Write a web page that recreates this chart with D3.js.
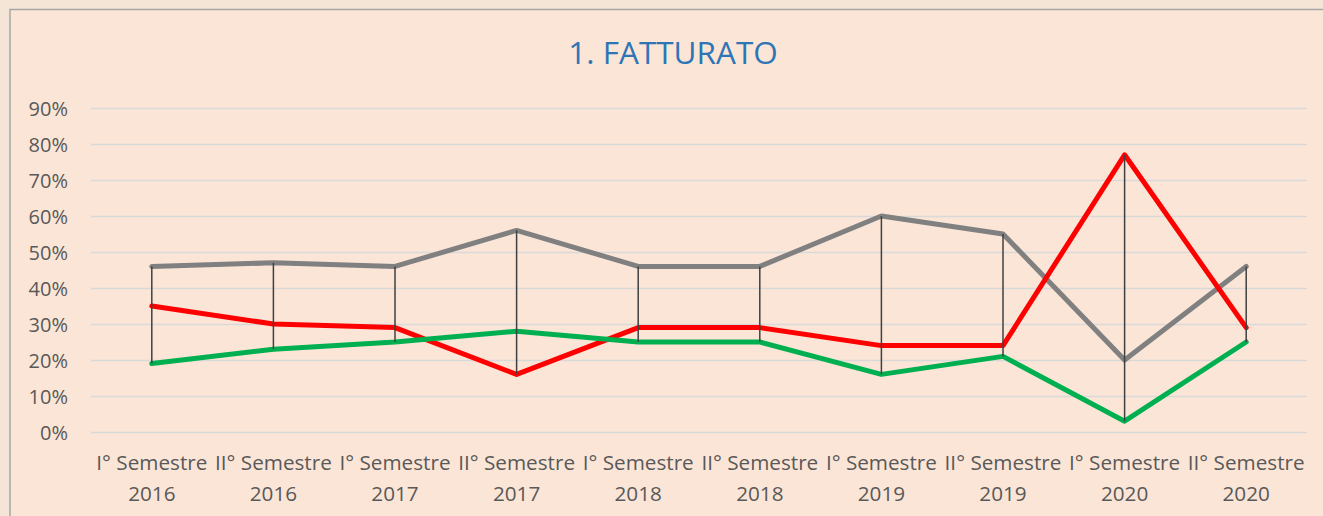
<!DOCTYPE html>
<html>
<head>
<meta charset="utf-8">
<script src="https://cdn.jsdelivr.net/npm/d3@7"></script>
<style>
  body { margin: 0; background: #f5e5d6; }
  svg { display: block; }
  .axisText { font-family: "Open Sans", sans-serif; fill: #595959; }
</style>
</head>
<body>
<div id="chart"></div>
<script>
var svgWidth = 1323;
var svgHeight = 516;

// categories (two-line labels) and series values, in %
var semesters = ["I° Semestre", "II° Semestre", "I° Semestre", "II° Semestre", "I° Semestre",
                 "II° Semestre", "I° Semestre", "II° Semestre", "I° Semestre", "II° Semestre"];
var years = ["2016", "2016", "2017", "2017", "2018", "2018", "2019", "2019", "2020", "2020"];
var greyValues = [46, 47, 46, 56, 46, 46, 60, 55, 20, 46];
var redValues = [35, 30, 29, 16, 29, 29, 24, 24, 77, 29];
var greenValues = [19, 23, 25, 28, 25, 25, 16, 21, 3, 25];
var yTicks = [0, 10, 20, 30, 40, 50, 60, 70, 80, 90];

var categories = semesters.map((s, i) => i);

var plot = { left: 91, right: 1307, top: 108, bottom: 432 };

var svg = d3.select("#chart")
  .append("svg")
  .attr("width", svgWidth)
  .attr("height", svgHeight);

// chart area (runs off the right and bottom of the picture)
svg.append("rect")
  .attr("x", 10)
  .attr("y", 9.5)
  .attr("width", svgWidth + 20)
  .attr("height", svgHeight + 20)
  .attr("fill", "#fbe5d7")
  .attr("stroke", "#a6a6a6")
  .attr("stroke-width", 1.5);

svg.append("text")
  .attr("x", 673)
  .attr("y", 64)
  .attr("text-anchor", "middle")
  .style("font-family", "'Open Sans', sans-serif")
  .style("font-size", "31.5px")
  .style("fill", "#2e75b6")
  .text("1. FATTURATO");

var xScale = d3.scaleBand()
  .domain(categories)
  .range([plot.left, plot.right])
  .padding(0);

var yScale = d3.scaleLinear()
  .domain([0, 90])
  .range([plot.bottom, plot.top]);

var xc = i => xScale(i) + xScale.bandwidth() / 2;

// gridlines + y labels
var leftAxis = d3.axisLeft(yScale)
  .tickValues(yTicks)
  .tickSize(-(plot.right - plot.left))
  .tickPadding(23)
  .tickFormat(d => d + "%");

var yAxisG = svg.append("g")
  .attr("transform", `translate(${plot.left}, 0)`)
  .call(leftAxis);
yAxisG.select(".domain").remove();
yAxisG.selectAll("line")
  .attr("stroke", "#d9d9d9")
  .attr("stroke-width", 1.5);
yAxisG.selectAll("text")
  .attr("class", "axisText")
  .style("font-size", "20px")
  .attr("dy", "0.35em");

// x labels
var bottomAxis = d3.axisBottom(xScale)
  .tickSize(0)
  .tickFormat("");

var xAxisG = svg.append("g")
  .attr("transform", `translate(0, ${plot.bottom})`)
  .call(bottomAxis);
xAxisG.select(".domain").remove();
xAxisG.selectAll(".tick").each(function(d) {
  var t = d3.select(this).select("text")
    .attr("class", "axisText")
    .attr("y", 0)
    .attr("dy", null)
    .style("font-size", "20.7px");
  t.append("tspan").attr("x", 0).attr("y", 38).text(semesters[d]);
  t.append("tspan").attr("x", 0).attr("y", 69).text(years[d]);
});

// series lines
var series = [
  { values: greyValues, color: "#808080" },
  { values: redValues, color: "#ff0000" },
  { values: greenValues, color: "#00b050" }
];

var line = d3.line()
  .x((d, i) => xc(i))
  .y(d => yScale(d));

svg.selectAll(".series")
  .data(series)
  .enter()
  .append("path")
  .attr("class", "series")
  .attr("d", d => line(d.values))
  .attr("fill", "none")
  .attr("stroke", d => d.color)
  .attr("stroke-width", 5)
  .attr("stroke-linejoin", "round")
  .attr("stroke-linecap", "round");

// high-low lines
svg.selectAll(".hilo")
  .data(categories)
  .enter()
  .append("line")
  .attr("class", "hilo")
  .attr("x1", d => xc(d))
  .attr("x2", d => xc(d))
  .attr("y1", d => yScale(d3.max([greyValues[d], redValues[d], greenValues[d]])))
  .attr("y2", d => yScale(d3.min([greyValues[d], redValues[d], greenValues[d]])))
  .attr("stroke", "#404040")
  .attr("stroke-width", 1.5);
</script>
</body>
</html>
